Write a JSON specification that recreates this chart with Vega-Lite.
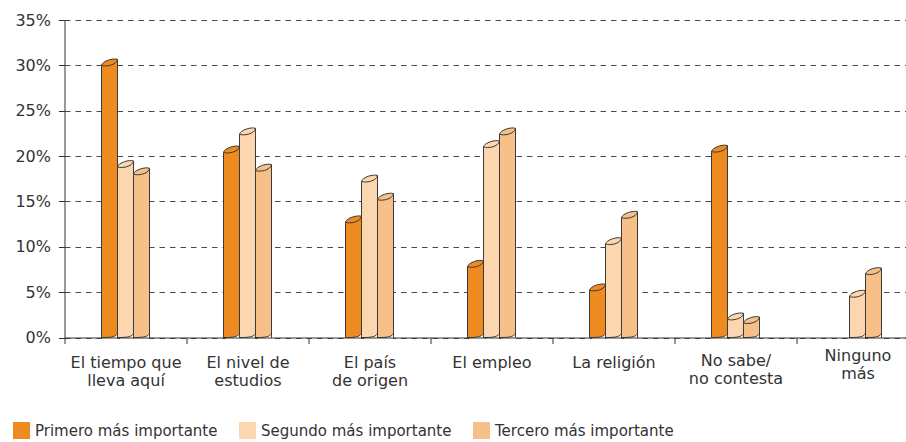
{
  "$schema": "https://vega.github.io/schema/vega-lite/v6.json",
  "autosize": {"type": "none"},
  "width": 841.5,
  "height": 317.5,
  "padding": {"left": 64.5, "top": 20, "right": 0, "bottom": 104.5},
  "background": "white",
  "config": {"view": {"stroke": null}, "font": "DejaVu Sans"},
  "data": {
    "values": [
      {"cat": "El tiempo que lleva aquí", "serie": "Primero más importante", "v": 30.0},
      {"cat": "El tiempo que lleva aquí", "serie": "Segundo más importante", "v": 18.8},
      {"cat": "El tiempo que lleva aquí", "serie": "Tercero más importante", "v": 18.0},
      {"cat": "El nivel de estudios", "serie": "Primero más importante", "v": 20.4},
      {"cat": "El nivel de estudios", "serie": "Segundo más importante", "v": 22.4},
      {"cat": "El nivel de estudios", "serie": "Tercero más importante", "v": 18.4},
      {"cat": "El país de origen", "serie": "Primero más importante", "v": 12.7},
      {"cat": "El país de origen", "serie": "Segundo más importante", "v": 17.2},
      {"cat": "El país de origen", "serie": "Tercero más importante", "v": 15.2},
      {"cat": "El empleo", "serie": "Primero más importante", "v": 7.8},
      {"cat": "El empleo", "serie": "Segundo más importante", "v": 21.0},
      {"cat": "El empleo", "serie": "Tercero más importante", "v": 22.4},
      {"cat": "La religión", "serie": "Primero más importante", "v": 5.2},
      {"cat": "La religión", "serie": "Segundo más importante", "v": 10.3},
      {"cat": "La religión", "serie": "Tercero más importante", "v": 13.2},
      {"cat": "No sabe/no contesta", "serie": "Primero más importante", "v": 20.5},
      {"cat": "No sabe/no contesta", "serie": "Segundo más importante", "v": 2.0},
      {"cat": "No sabe/no contesta", "serie": "Tercero más importante", "v": 1.6},
      {"cat": "Ninguno más", "serie": "Segundo más importante", "v": 4.5},
      {"cat": "Ninguno más", "serie": "Tercero más importante", "v": 7.0}
    ]
  },
  "encoding": {
    "x": {
      "field": "cat",
      "type": "nominal",
      "sort": ["El tiempo que lleva aquí", "El nivel de estudios", "El país de origen", "El empleo", "La religión", "No sabe/no contesta", "Ninguno más"],
      "scale": {"range": [0, 854], "paddingInner": 0, "paddingOuter": 0},
      "axis": {
        "title": null,
        "zindex": 1,
        "labelAngle": 0,
        "tickBand": "extent",
        "tickSize": 6,
        "tickColor": "#333333",
        "domainColor": "#333333",
        "labelFontSize": 16,
        "labelColor": "#333333",
        "labelLineHeight": 18,
        "labelLimit": 0,
        "labelPadding": {"condition": [{"test": "datum.value === 'Ninguno más'", "value": 4}, {"test": "datum.value === 'No sabe/no contesta'", "value": 8.5}], "value": 11},
        "labelExpr": "datum.label == 'El tiempo que lleva aquí' ? ['El tiempo que', 'lleva aquí'] : datum.label == 'El nivel de estudios' ? ['El nivel de', 'estudios'] : datum.label == 'El país de origen' ? ['El país', 'de origen'] : datum.label == 'No sabe/no contesta' ? ['No sabe/', 'no contesta'] : datum.label == 'Ninguno más' ? ['Ninguno', 'más'] : datum.label"
      }
    },
    "xOffset": {
      "field": "serie",
      "type": "nominal",
      "scale": {"domain": ["_1", "_2", "Primero más importante", "Segundo más importante", "Tercero más importante", "_3", "_4"], "paddingInner": 0, "paddingOuter": 0.3125}
    },
    "y": {
      "field": "v",
      "type": "quantitative",
      "scale": {"domain": [0, 35], "nice": false, "zero": true},
      "axis": {
        "title": null,
        "values": [0, 5, 10, 15, 20, 25, 30, 35],
        "labelExpr": "datum.value + '%'",
        "labelFontSize": 16,
        "labelColor": "#333333",
        "labelPadding": 8,
        "tickSize": 6,
        "tickColor": "#333333",
        "domainColor": "#333333",
        "grid": true,
        "gridDash": [5.5, 5],
        "gridColor": "#4a4a4a",
        "gridWidth": 1
      }
    }
  },
  "layer": [
    {
      "mark": {"type": "bar", "stroke": "#3a3a3a", "strokeWidth": 1},
      "encoding": {
        "color": {
          "field": "serie",
          "type": "nominal",
          "scale": {"domain": ["Primero más importante", "Segundo más importante", "Tercero más importante"], "range": ["#EE8B20", "#FCD6AE", "#F6C088"]},
          "legend": {
            "title": null,
            "orient": "none",
            "direction": "horizontal",
            "legendX": -51.5,
            "legendY": 402,
            "padding": 0,
            "symbolType": "square",
            "symbolSize": 289,
            "symbolStrokeWidth": 0,
            "symbolOpacity": 1,
            "labelFontSize": 15,
            "labelColor": "#333333",
            "labelOffset": 5,
            "columnPadding": 21,
            "labelLimit": 0
          }
        }
      }
    },
    {
      "mark": {"type": "point", "shape": "M -1 0.15 L -1 0 C -0.875 -0.5625 0.5 -0.9375 1 -0.75 L 1 0.15 Z", "size": 256, "filled": true, "opacity": 1, "strokeWidth": 0},
      "encoding": {
        "color": {"field": "serie", "type": "nominal", "legend": null}
      }
    },
    {
      "mark": {"type": "point", "shape": "M -1 0.15 L -1 0 C -0.875 -0.5625 0.5 -0.9375 1 -0.75 L 1 0.15 M -1 0 C -0.5 0.1875 0.875 0 1 -0.75", "size": 256, "filled": false, "opacity": 1, "stroke": "#3a3a3a", "strokeWidth": 1}
    },
    {
      "mark": {"type": "point", "shape": "M 0.94 -0.5 C 0.85 -0.1 0.2 -0.02 -0.7 -0.02 L -0.7 0.2 L 0.94 0.2 Z", "size": 256, "filled": true, "opacity": 1, "color": "white", "strokeWidth": 0},
      "encoding": {"y": {"datum": 0, "type": "quantitative"}}
    },
    {
      "mark": {"type": "point", "shape": "M 1 -0.55 C 0.9 -0.1 0.2 0 -0.7 0", "size": 256, "filled": false, "opacity": 1, "stroke": "#3a3a3a", "strokeWidth": 1},
      "encoding": {"y": {"datum": 0, "type": "quantitative"}}
    }
  ]
}
